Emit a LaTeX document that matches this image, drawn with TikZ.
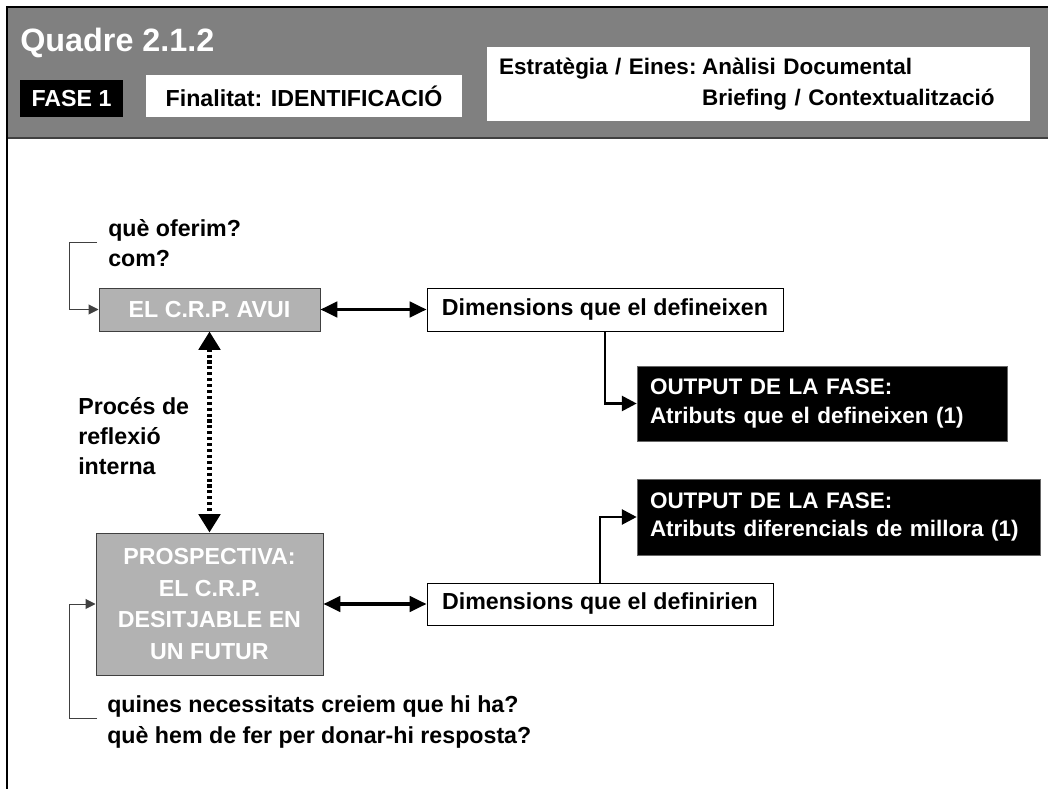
\documentclass[tikz,border=0pt]{standalone}
\usepackage{fontspec}
\setmainfont{Liberation Sans}
\usetikzlibrary{positioning, arrows.meta}

\definecolor{hdrgray}{RGB}{128,128,128}
\definecolor{boxgray}{RGB}{178,178,178}
\definecolor{edgegray}{RGB}{64,64,64}

\begin{document}
\begin{tikzpicture}[
  >=Stealth,
  body/.style={font=\fontsize{16.5}{21.5}\selectfont\bfseries},
  whitebox/.style={body, draw, fill=white, line width=0.7pt, inner sep=0pt},
  graybox/.style={body, draw=edgegray, fill=boxgray, text=white, line width=0.7pt, inner sep=0pt, align=center},
  outbox/.style={font=\fontsize{16}{20}\selectfont\bfseries, draw=black!60, fill=black, text=white, inner xsep=0.325cm, align=left},
  label/.style={body, inner sep=0pt, anchor=base west, align=left},
  bothway/.style={line width=2.2pt, {Triangle[length=12pt,width=11pt]}-{Triangle[length=12pt,width=11pt]}},
  toout/.style={line width=2pt, -{Triangle[length=10.5pt,width=10.5pt]}},
  reflex/.style={line width=3.2pt, dash pattern=on 2.2pt off 2pt, {Triangle[length=13pt,width=15pt]}-{Triangle[length=13pt,width=15pt]}},
  loopback/.style={edgegray, line width=0.7pt, -{Triangle[length=7pt,width=7pt]}}
]
\useasboundingbox (0,0) rectangle (26.2,-19.725);
\clip (0,0) rectangle (26.2,-19.725);

% Header band
\fill[hdrgray] (0.2,-0.2) rectangle (26.4,-3.45);
\draw[edgegray, line width=1.4pt] (0.2,-3.45) -- (26.4,-3.45);
\draw[line width=1.6pt] (0.175,-20) -- (0.175,-0.175) -- (26.4,-0.175);

\node[anchor=base west, text=white, inner sep=0pt, font=\fontsize{23}{28}\selectfont\bfseries] (title) at (0.5,-1.3) {Quadre 2.1.2};
\node[fill=black, text=white, minimum width=2.575cm, minimum height=0.925cm, inner sep=0pt, font=\fontsize{16.5}{20}\selectfont\bfseries] (fase) at (1.7875,-2.4625) {FASE 1};
\node[whitebox, draw=none, minimum width=7.9cm, minimum height=1.05cm] (fin) at (7.6,-2.4) {Finalitat: IDENTIFICACIÓ};
\node[whitebox, draw=none, minimum width=13.575cm, minimum height=1.85cm, text width=12.975cm, align=left, font=\fontsize{16}{21.5}\selectfont\bfseries] (eines) at (18.9625,-2.1)
  {\begin{tabular}{@{}l@{\hspace{4pt}}l@{}}Estratègia / Eines: & Anàlisi Documental\\ & Briefing / Contextualització\end{tabular}};

% Boxes
\node[graybox, minimum width=5.525cm, minimum height=1.075cm] (avui) at (5.2375,-7.7375) {EL C.R.P. AVUI};
\node[whitebox, minimum width=8.9cm, minimum height=1.075cm] (dim1) at (15.125,-7.7375) {Dimensions que el defineixen};
\node[outbox, text width=8.6cm, minimum height=1.875cm] (out1) at (20.55,-10.0875) {OUTPUT DE LA FASE:\\Atributs que el defineixen (1)};

\node[graybox, minimum width=5.675cm, minimum height=3.55cm, font=\fontsize{16.5}{22.5}\selectfont\bfseries] (prosp) at (5.2375,-15.1) {PROSPECTIVA:\\EL C.R.P.\\DESITJABLE EN\\UN FUTUR};
\node[whitebox, minimum width=8.65cm, minimum height=1.05cm] (dim2) at (15.0,-15.1) {Dimensions que el definirien};
\node[outbox, text width=9.425cm, minimum height=1.9cm] (out2) at (20.9625,-12.925) {OUTPUT DE LA FASE:\\Atributs diferencials de millora (1)};

% Labels
\node[label] (qtop) at (2.7,-6.675) {què oferim?\\com?};
\node[label] (refl) at (1.95,-11.875) {Procés de\\reflexió\\interna};
\node[label] (qbot) at (2.675,-18.575) {quines necessitats creiem que hi ha?\\què hem de fer per donar-hi resposta?};

% Connectors
\draw[bothway] (avui) -- (dim1);
\draw[bothway] (prosp) -- (dim2);
\draw[reflex] (avui) -- (prosp);
\draw[toout] (dim1.south) |- (out1.west);
\draw[toout] (dim2.north) |- (out2.west);
\coordinate (loopa) at (2.425,-6.05);
\coordinate (loopb) at (2.425,-17.95);
\draw[loopback] (loopa) -- ++(-0.7,0) |- (avui.west);
\draw[loopback] (loopb) -- ++(-0.7,0) |- (prosp.west);

\end{tikzpicture}
\end{document}
